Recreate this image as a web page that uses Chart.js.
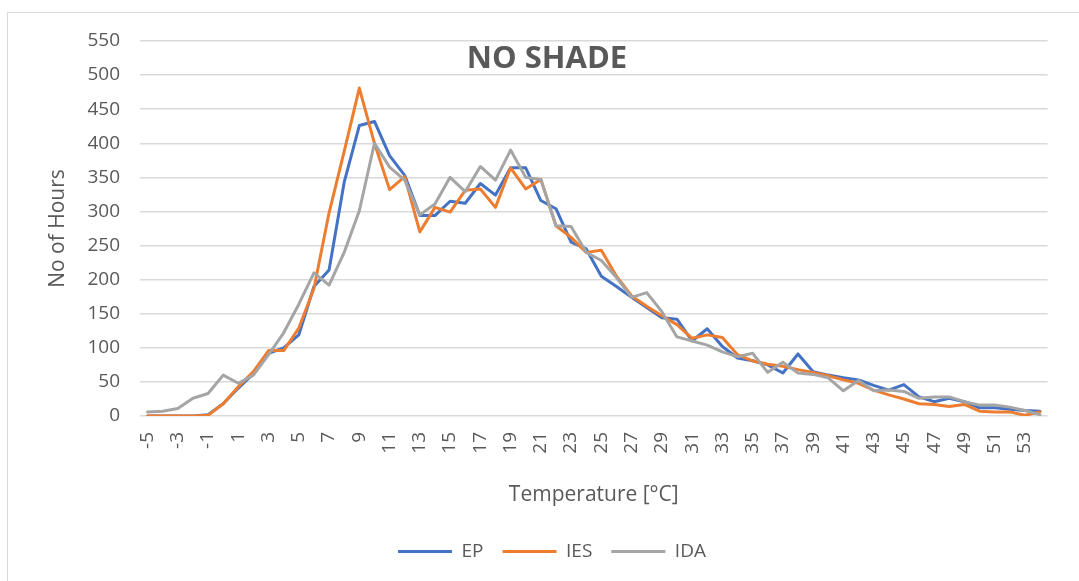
<!DOCTYPE html>
<html>
<head>
<meta charset="utf-8">
<script src="https://cdn.jsdelivr.net/npm/chart.js@4.4.0/dist/chart.umd.min.js"></script>
<style>
  html, body { margin: 0; padding: 0; background: #fff; }
  #wrap { position: relative; width: 1079px; height: 581px; }
  #frame { position: absolute; left: 7px; top: 12px; right: 0; bottom: 0;
           border-left: 1px solid #d9d9d9; border-top: 1px solid #d9d9d9; }
  #myChart { position: absolute; left: 0; top: 0; }
</style>
</head>
<body>
<div id="wrap">
  <div id="frame"></div>
  <canvas id="myChart" width="1079" height="581"></canvas>
</div>
<script>
// Temperature bins (deg C)
const temps = [-5, -4, -3, -2, -1, 0, 1, 2, 3, 4, 5, 6, 7, 8, 9, 10, 11, 12, 13, 14,
  15, 16, 17, 18, 19, 20, 21, 22, 23, 24, 25, 26, 27, 28, 29, 30, 31, 32, 33, 34,
  35, 36, 37, 38, 39, 40, 41, 42, 43, 44, 45, 46, 47, 48, 49, 50, 51, 52, 53, 54];

// Hours per bin
const epHours = [0, 0, 0, 0, 2, 18, 41, 62, 92, 100, 119, 190, 214, 343, 426, 432, 382, 353, 294, 294,
  315, 312, 341, 324, 364, 364, 316, 304, 255, 245, 205, 190, 174, 159, 144, 142, 110, 128, 102, 85,
  81, 75, 63, 91, 65, 60, 56, 53, 45, 38, 46, 28, 21, 26, 21, 12, 12, 10, 8, 7];
const iesHours = [0, 0, 0, 0, 1, 18, 43, 65, 96, 96, 129, 187, 298, 388, 481, 400, 332, 351, 270, 306,
  299, 331, 333, 306, 364, 333, 347, 279, 262, 240, 243, 205, 176, 161, 147, 134, 114, 119, 115, 90,
  81, 76, 73, 68, 64, 59, 53, 48, 38, 31, 25, 18, 17, 14, 17, 7, 6, 6, 1, 6];
const idaHours = [6, 7, 11, 26, 33, 60, 48, 60, 90, 122, 164, 210, 192, 240, 301, 400, 365, 346, 295, 311,
  350, 329, 366, 346, 390, 350, 347, 279, 278, 240, 228, 203, 174, 181, 153, 116, 110, 104, 94, 87,
  92, 64, 79, 63, 61, 56, 37, 52, 37, 38, 36, 26, 28, 28, 21, 16, 16, 13, 8, 2];

const seriesNames = ['EP', 'IES', 'IDA'];
const seriesColors = ['#4472C4', '#ED7D31', '#A5A5A5'];
const chartTitle = 'NO SHADE';

const textColor = '#595959';
const fontFamily = '"Open Sans", "DejaVu Sans", sans-serif';

// Title sits inside the plot area, so draw it by hand
const titlePlugin = {
  id: 'insideTitle',
  afterLayout(chart) {
    // legend in the original is centred a bit right of the canvas middle
    if (chart.legend) {
      chart.legend.left += 21;
      chart.legend.right += 21;
    }
  },
  afterDraw(chart) {
    const ctx = chart.ctx;
    ctx.save();
    ctx.font = 'bold 31px ' + fontFamily;
    ctx.fillStyle = textColor;
    ctx.textAlign = 'center';
    ctx.textBaseline = 'alphabetic';
    ctx.fillText(chartTitle, 547, 68);
    ctx.restore();
  }
};

function makeSet(i, values, order) {
  return {
    label: seriesNames[i],
    data: values,
    borderColor: seriesColors[i],
    backgroundColor: seriesColors[i],
    borderWidth: 3,
    borderCapStyle: 'round',
    borderJoinStyle: 'round',
    pointRadius: 0,
    pointStyle: 'line',
    tension: 0,
    order: order
  };
}

const ctx = document.getElementById('myChart');
const myChart = new Chart(ctx, {
  type: 'line',
  data: {
    labels: temps,
    datasets: [
      makeSet(0, epHours, 3),
      makeSet(1, iesHours, 2),
      makeSet(2, idaHours, 1)
    ]
  },
  plugins: [titlePlugin],
  options: {
    responsive: false,
    animation: false,
    layout: { padding: { top: 41, left: 7, right: 24, bottom: 10 } },
    plugins: {
      tooltip: { enabled: false },
      title: { display: false },
      legend: {
        position: 'bottom',
        labels: {
          usePointStyle: true,
          pointStyle: 'line',
          pointStyleWidth: 54,
          boxHeight: 19,
          padding: 19,
          color: textColor,
          font: { family: fontFamily, size: 19 },
          // keep EP, IES, IDA order even though IDA is drawn on top
          sort: function(a, b) { return a.datasetIndex - b.datasetIndex; }
        }
      }
    },
    scales: {
      x: {
        offset: true,
        grid: { display: false, drawTicks: false },
        border: { display: false },
        ticks: {
          autoSkip: false,
          minRotation: 90,
          maxRotation: 90,
          padding: 16,
          color: textColor,
          font: { family: fontFamily, size: 19 },
          callback: function(value, index) {
            return index % 2 === 0 ? this.getLabelForValue(value) : '';
          }
        },
        title: {
          display: true,
          text: 'Temperature [°C]',
          color: textColor,
          font: { family: fontFamily, size: 21 },
          padding: { top: 0, bottom: 15.5 }
        },
        afterFit: function(scale) { scale.height = 107; }
      },
      y: {
        min: 0,
        max: 550,
        grid: { color: '#d9d9d9', lineWidth: 1.5, drawTicks: false },
        border: { display: false },
        ticks: {
          stepSize: 50,
          padding: 20,
          color: textColor,
          font: { family: fontFamily, size: 19 }
        },
        title: {
          display: true,
          text: 'No of Hours',
          color: textColor,
          font: { family: fontFamily, size: 21 },
          padding: { top: 38, bottom: 0 }
        },
        afterFit: function(scale) { scale.width = 133; }
      }
    }
  }
});
</script>
</body>
</html>
